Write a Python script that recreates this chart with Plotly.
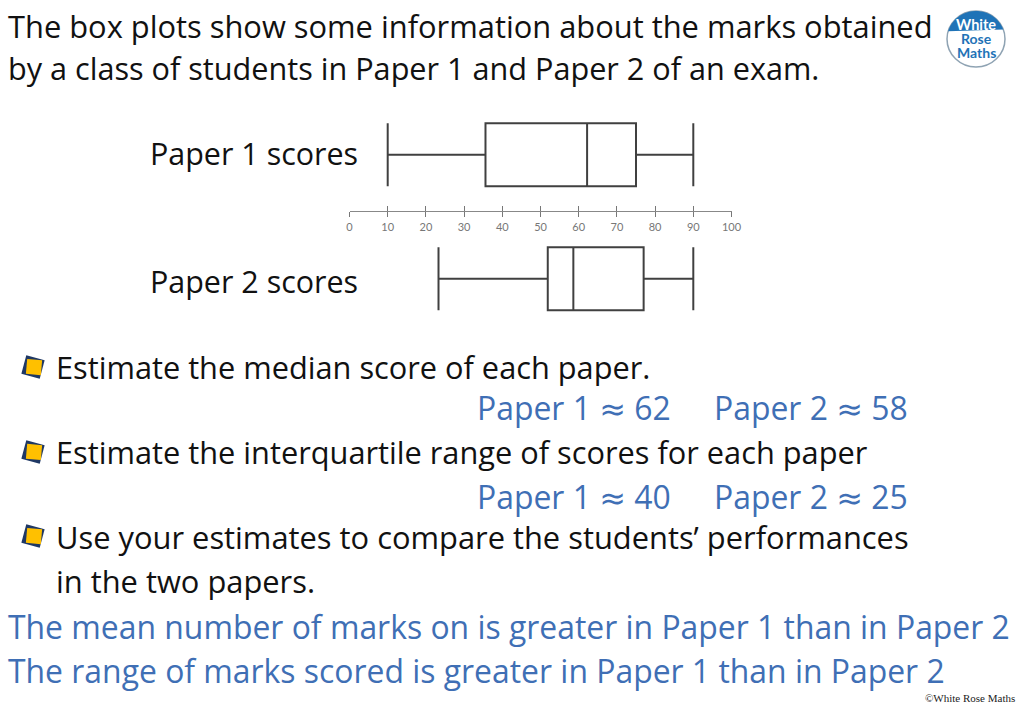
import math
import plotly.graph_objects as go

W, H = 1024, 708
papers = ["Paper 1 scores", "Paper 2 scores"]
low = [10, 23.3]
q1 = [35.6, 51.9]
median = [62.2, 58.6]
q3 = [75, 77]
high = [90, 90]
tick_vals = list(range(0, 101, 10))
tick_text = [str(v) for v in tick_vals]

BLACK = "#111111"
BLUE = "#3F6FB5"
LOGO = "#1F73B7"
FONT = "Open Sans"
APPROX = '<span style="font-family:DejaVu Sans">≈</span>'

black_lines = [
    ("The box plots show some information about the marks obtained", 6, 26, 30.85),
    ("by a class of students in Paper 1 and Paper 2 of an exam.", 6, 68, 30.63),
    ("Paper 1 scores", 148, 153, 30.46),
    ("Paper 2 scores", 148, 281, 30.46),
    ("Estimate the median score of each paper.", 54, 367, 30.74),
    ("Estimate the interquartile range of scores for each paper", 54, 452, 30.75),
    ("Use your estimates to compare the students’ performances", 54, 537, 30.85),
    ("in the two papers.", 54, 581, 30.85),
]
blue_lines = [
    (f"Paper 1 {APPROX} 62", 475, 407.5),
    (f"Paper 2 {APPROX} 58", 712, 407.5),
    (f"Paper 1 {APPROX} 40", 475, 496),
    (f"Paper 2 {APPROX} 25", 712, 496),
    ("The mean number of marks on is greater in Paper 1 than in Paper 2", 6, 626),
    ("The range of marks scored is greater in Paper 1 than in Paper 2", 6, 670),
]
bullet_rows = [367, 452, 536]


def px(x):
    return x / W


def py(y):
    return 1 - y / H


def square(cx, cy, size, deg):
    a = math.radians(deg)
    pts = []
    for sx, sy in [(-1, -1), (1, -1), (1, 1), (-1, 1)]:
        x = sx * size / 2
        y = sy * size / 2
        pts.append((cx + x * math.cos(a) - y * math.sin(a), cy + x * math.sin(a) + y * math.cos(a)))
    return "M" + " L".join(f"{px(x):.5f},{py(y):.5f}" for x, y in pts) + " Z"


fig = go.Figure()
for i, name in enumerate(papers):
    fig.add_trace(go.Box(
        y=[name], lowerfence=[low[i]], q1=[q1[i]], median=[median[i]], q3=[q3[i]],
        upperfence=[high[i]], orientation="h", width=0.508, whiskerwidth=1,
        fillcolor="white", line=dict(color="#404040", width=2),
        hoverinfo="skip", showlegend=False,
    ))
fig.add_trace(go.Scatter(x=[0], y=[papers[0]], xaxis="x2", mode="markers",
                         marker=dict(opacity=0), hoverinfo="skip", showlegend=False))

ann = []
for text, x, y, size in black_lines:
    ann.append(dict(text=text, x=px(x), y=py(y), xref="paper", yref="paper", xanchor="left",
                    yanchor="middle", showarrow=False, font=dict(family=FONT, size=size, color=BLACK)))
for text, x, y in blue_lines:
    ann.append(dict(text=text, x=px(x), y=py(y), xref="paper", yref="paper", xanchor="left",
                    yanchor="middle", showarrow=False, font=dict(family=FONT, size=31.9, color=BLUE)))
ann.append(dict(text="©White Rose Maths", x=px(1017), y=py(698), xref="paper", yref="paper",
                xanchor="right", yanchor="middle", showarrow=False,
                font=dict(family="Liberation Serif", size=11, color="#222222")))
for text, y, size, color in [("<b>White</b>", 24, 14.5, "white"),
                             ("<b>Rose</b>", 39, 14, LOGO),
                             ("<b>Maths</b>", 52.5, 14, LOGO)]:
    ann.append(dict(text=text, x=px(976), y=py(y), xref="paper", yref="paper", xanchor="center",
                    yanchor="middle", showarrow=False, font=dict(family="Lato", size=size, color=color)))

shapes = []
for cy in bullet_rows:
    shapes.append(dict(type="path", xref="paper", yref="paper", path=square(33, cy, 19, 15),
                       fillcolor="#1F3864", line=dict(width=0), layer="below"))
    shapes.append(dict(type="path", xref="paper", yref="paper", path=square(34, cy, 15, 5),
                       fillcolor="#FFC000", line=dict(width=0), layer="below"))
shapes.append(dict(type="circle", xref="paper", yref="paper", x0=px(947), x1=px(1005), y0=py(67), y1=py(11),
                   fillcolor="white", line=dict(color="#8FA3B3", width=1.5), layer="below"))
arc = [(976 + 29 * math.cos(math.radians(t)), 39 - 28 * math.sin(math.radians(t)))
       for t in range(164, 15, -6)]
shapes.append(dict(type="path", xref="paper", yref="paper",
                   path="M" + " L".join(f"{px(x):.5f},{py(y):.5f}" for x, y in arc) + " Z",
                   fillcolor=LOGO, line=dict(width=0), layer="below"))

axis = dict(domain=[px(349.5), px(731.5)], range=[0, 100], anchor="free", position=py(210.6),
            tickvals=tick_vals, showgrid=False, zeroline=False, showline=True,
            linecolor="#888888", linewidth=1, tickcolor="#777777", tickwidth=1, ticklen=5)

fig.update_layout(
    width=W, height=H, margin=dict(l=0, r=0, t=0, b=0, autoexpand=False),
    paper_bgcolor="white", plot_bgcolor="rgba(0,0,0,0)",
    boxmode="overlay", showlegend=False, annotations=ann, shapes=shapes,
    xaxis=dict(**axis, ticks="outside", ticktext=tick_text, ticklabelstandoff=1,
               tickfont=dict(family="Lato", size=11, color="#777777")),
    xaxis2=dict(**axis, ticks="inside", overlaying="x", showticklabels=False),
    yaxis=dict(domain=[0, 1], range=[(708 - 154.7) / 124.1, -154.7 / 124.1], type="category",
               categoryorder="array", categoryarray=papers, visible=False, anchor="free", position=0),
)
fig.write_html("out.html", config={"displayModeBar": False},
               post_script="document.body.style.margin='0';document.documentElement.style.overflow='hidden';")
